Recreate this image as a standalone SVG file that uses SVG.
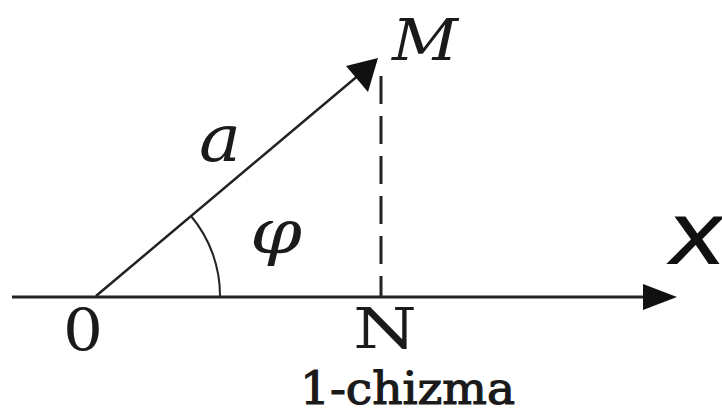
<svg xmlns="http://www.w3.org/2000/svg" width="722" height="415" viewBox="0 0 722 415">
<style>
.ln{stroke:#222;fill:none;stroke-linecap:butt}
.it{font-family:'DejaVu Serif','Liberation Serif',serif;font-style:italic;fill:#1a1a1a}
.rm{font-family:'DejaVu Serif','Liberation Serif',serif;fill:#1a1a1a}
.ss{font-family:'Liberation Sans','DejaVu Sans',sans-serif;fill:#111}
</style>
<rect width="722" height="415" fill="#fff"/>
<g id="connectors">
<line id="axis" class="ln" x1="12" y1="297" x2="646" y2="297" stroke-width="3"/>
<path id="axis-head" d="M643,284 L677,297 L643,310 Z" fill="#111"/>
<line id="vector" class="ln" x1="96" y1="296" x2="360" y2="74" stroke-width="2.5"/>
<path id="vector-head" d="M378,58 L368,92 L346,66 Z" fill="#111"/>
<line id="drop" class="ln" x1="381" y1="76" x2="381" y2="297" stroke-width="3" stroke-dasharray="28 12" stroke="#333"/>
<path id="angle-arc" class="ln" d="M191,216 A124,124 0 0 1 220,297" stroke-width="2"/>
</g>
<g id="node-M"><text class="it" x="392" y="60" font-size="58" textLength="66" lengthAdjust="spacingAndGlyphs">M</text></g>
<g id="node-a"><text class="it" x="199" y="161" font-size="66" textLength="42" lengthAdjust="spacingAndGlyphs">a</text></g>
<g id="node-phi"><text class="it" x="250" y="253" font-size="62" textLength="52" lengthAdjust="spacingAndGlyphs">φ</text></g>
<g id="node-X" transform="translate(667,263) skewX(-8)"><text class="ss" x="0" y="0" font-size="66" stroke="#111" stroke-width="2" textLength="52" lengthAdjust="spacingAndGlyphs">X</text></g>
<g id="node-O"><text class="rm" x="63" y="350" font-size="58" textLength="40" lengthAdjust="spacingAndGlyphs">0</text></g>
<g id="node-N"><text class="rm" x="353" y="348" font-size="56" textLength="64" lengthAdjust="spacingAndGlyphs">N</text></g>
<g id="caption"><text class="rm" x="300" y="404" font-size="45" stroke="#1a1a1a" stroke-width="1.2" textLength="215" lengthAdjust="spacingAndGlyphs">1-chizma</text></g>
</svg>
